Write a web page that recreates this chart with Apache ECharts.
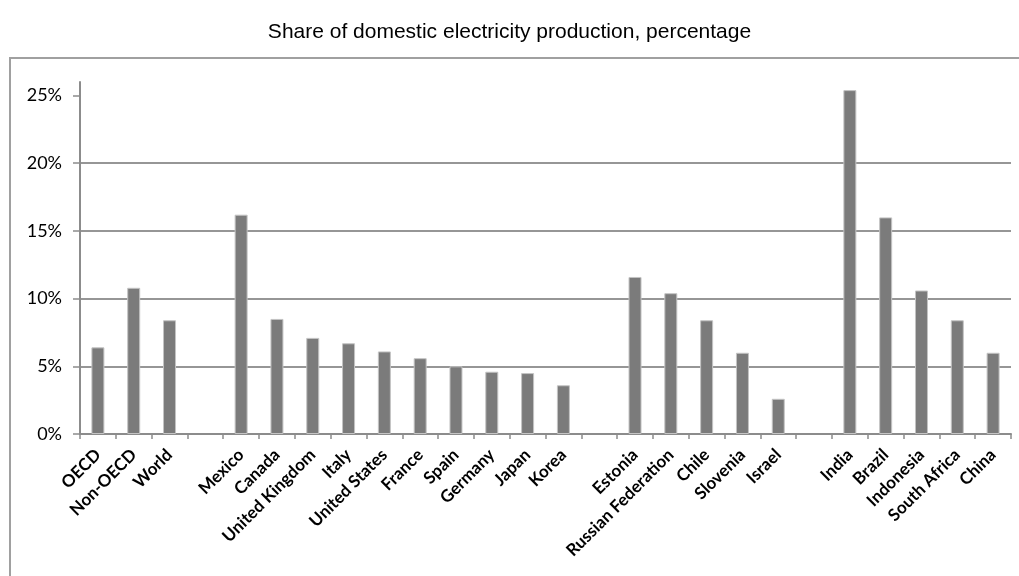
<!DOCTYPE html>
<html>
<head>
<meta charset="utf-8">
<script src="https://cdn.jsdelivr.net/npm/echarts@6/dist/echarts.min.js"></script>
<style>
html, body { margin: 0; padding: 0; background: #fff; }
#main { width: 1019px; height: 576px; }
</style>
</head>
<body>
<div id="main"></div>
<script>
// categories, blanks are the gaps between groups
var categories = ['OECD', 'Non-OECD', 'World', '',
    'Mexico', 'Canada', 'United Kingdom', 'Italy', 'United States', 'France', 'Spain', 'Germany', 'Japan', 'Korea', '',
    'Estonia', 'Russian Federation', 'Chile', 'Slovenia', 'Israel', '',
    'India', 'Brazil', 'Indonesia', 'South Africa', 'China'];
var shares = [6.4, 10.8, 8.4, null,
    16.2, 8.5, 7.1, 6.7, 6.1, 5.6, 5.0, 4.6, 4.5, 3.6, null,
    11.6, 10.4, 8.4, 6.0, 2.6, null,
    25.4, 16.0, 10.6, 8.4, 6.0];
var yTicks = [0, 5, 10, 15, 20, 25];

var myChart = echarts.init(document.getElementById('main'));
var option = {
    animation: false,
    title: {
        text: 'Share of domestic electricity production, percentage',
        left: 'center',
        top: 17,
        textStyle: {
            fontFamily: 'Liberation Sans',
            fontWeight: 'normal',
            fontSize: 21,
            color: '#000'
        }
    },
    graphic: [{
        type: 'rect',
        shape: { x: 10, y: 58, width: 1030, height: 540 },
        style: { fill: 'none', stroke: '#a0a0a0', lineWidth: 2 },
        silent: true
    }],
    grid: {
        left: 80,
        right: 8,
        top: 82,
        bottom: 142
    },
    xAxis: {
        type: 'category',
        data: categories,
        axisLine: { lineStyle: { color: '#8c8c8c', width: 2 } },
        axisTick: { show: true, length: 5, lineStyle: { color: '#8c8c8c', width: 1.5 } },
        axisLabel: {
            interval: 0,
            rotate: 45,
            margin: 18,
            fontFamily: 'Lato',
            fontWeight: 'bold',
            fontSize: 17,
            color: '#000'
        }
    },
    yAxis: {
        type: 'value',
        min: 0,
        max: 26,
        interval: 5,
        axisLine: { show: true, lineStyle: { color: '#8c8c8c', width: 2 } },
        axisTick: { show: true, length: 7, customValues: yTicks, lineStyle: { color: '#8c8c8c', width: 1.5 } },
        axisLabel: {
            customValues: yTicks,
            margin: 18,
            fontFamily: 'Lato',
            fontSize: 18,
            color: '#000',
            formatter: '{value}%'
        },
        splitLine: {
            show: true,
            showMaxLine: false,
            lineStyle: { color: '#969696', width: 2 }
        }
    },
    series: [{
        type: 'bar',
        data: shares,
        barWidth: 13,
        itemStyle: {
            color: '#7b7b7b',
            borderColor: '#c4c4c4',
            borderWidth: 1
        }
    }]
};
myChart.setOption(option);
</script>
</body>
</html>
